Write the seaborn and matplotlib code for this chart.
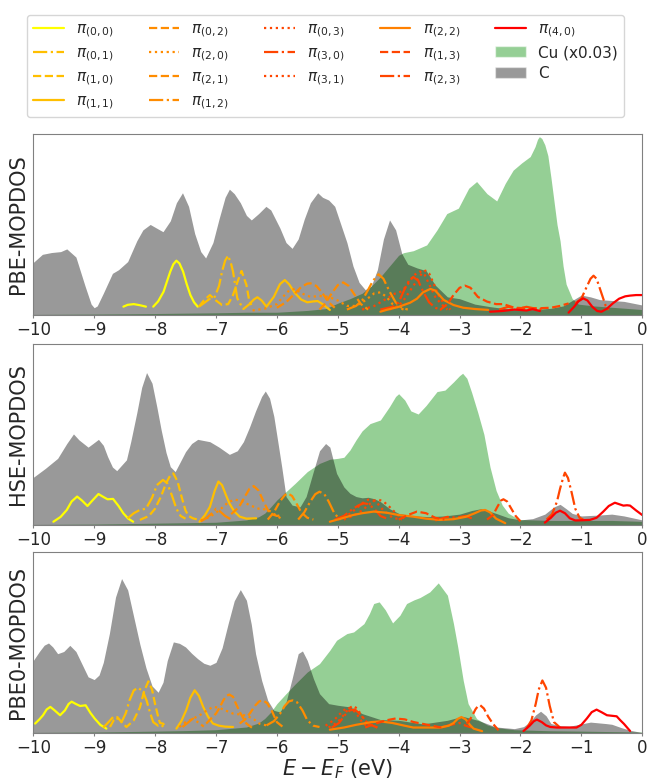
import matplotlib
matplotlib.use('Agg')
import matplotlib.pyplot as plt
import seaborn as sns
from matplotlib.lines import Line2D
from matplotlib.patches import Patch

# y in % of panel height, E in eV

# ---------------- PBE ----------------
pbe_c_e = [-10, -9.85, -9.7, -9.55, -9.45, -9.3, -9.15, -9.05, -9.0, -8.95, -8.85, -8.7, -8.6, -8.45,
           -8.3, -8.2, -8.08, -7.95, -7.87, -7.75, -7.65, -7.55, -7.45, -7.35, -7.25, -7.17, -7.05, -6.95,
           -6.85, -6.78, -6.7, -6.6, -6.5, -6.42, -6.3, -6.18, -6.1, -5.95, -5.85, -5.75, -5.65, -5.55,
           -5.45, -5.33, -5.25, -5.15, -5.05, -4.95, -4.85, -4.75, -4.65, -4.55, -4.45, -4.35, -4.25,
           -4.15, -4.05, -3.95, -3.85, -3.7, -3.55, -3.4, -3.2, -3.0, -2.75, -2.5, -2.25, -2.0, -1.75,
           -1.5, -1.3, -1.15, -1.0, -0.85, -0.7, -0.5, -0.3, 0.0]
pbe_c = [29, 33.5, 34.5, 35, 36.5, 32, 16, 6, 4, 5, 12, 23, 25, 29.5,
         41, 47, 50, 47.5, 46, 52, 62, 67.5, 60, 45, 35, 31.5, 40, 53,
         65, 69.5, 67, 62, 55, 52.5, 56, 60, 58, 48, 40, 36.8, 42, 53,
         62, 67.5, 65, 63.5, 60, 50, 40, 27, 18, 14, 16, 25, 42,
         52.5, 47, 34, 28, 26, 24.5, 16.5, 10, 9, 6, 4.6, 3.5, 2.8, 3,
         3.7, 5, 8, 11, 10, 8.5, 8, 7.5, 5.5]
pbe_cu_e = [-10, -9, -8, -7, -6.5, -6, -5.5, -5.2, -5.0, -4.8, -4.6, -4.45, -4.3, -4.15, -4.0, -3.92,
            -3.76, -3.54, -3.37, -3.21, -3.02, -2.85, -2.72, -2.55, -2.39, -2.25, -2.12, -1.98, -1.84,
            -1.76, -1.72, -1.69, -1.65, -1.6, -1.55, -1.5, -1.45, -1.4, -1.35, -1.3, -1.25, -1.15, -1.05,
            -0.8, -0.4, 0]
pbe_cu = [0.3, 0.5, 0.8, 1.2, 1.5, 1.5, 2.5, 3.5, 6.5, 9, 12, 16, 21, 27, 33, 34.4,
          35.5, 38.7, 47, 56, 59, 70, 73.7, 67, 63, 72.7, 80, 84, 87.5,
          93, 97, 98.5, 97.5, 94, 88, 76, 63, 50, 41, 27, 17, 9, 6,
          5, 4, 3]
pbe_pi = {
    '00': [([-8.52, -8.45, -8.35, -8.25, -8.15], [4.6, 5.6, 6.0, 5.4, 4.6]),
           ([-8.03, -7.95, -7.86, -7.8, -7.75, -7.7, -7.65, -7.6, -7.54, -7.48, -7.42, -7.36, -7.3],
            [4.6, 7.5, 12.9, 19, 24, 28, 30, 28.5, 24, 17, 11, 7, 4.6])],
    '01': [([-7.28, -7.2, -7.1, -7.02, -6.95, -6.9, -6.85, -6.8, -6.75, -6.72, -6.65, -6.6, -6.55],
            [4.6, 6.5, 9, 10, 16, 24, 30, 32.8, 28, 24, 9.2, 6, 4.6])],
    '10': [([-7.28, -7.2, -7.1, -7.0, -6.9, -6.8, -6.72, -6.65, -6.58, -6.5, -6.46, -6.42],
            [4.6, 8, 11, 8, 5.5, 6, 11, 18, 24.3, 16.6, 9, 5.5])],
    '11': [([-6.55, -6.45, -6.38, -6.32, -6.25, -6.17, -6.05, -5.95, -5.87, -5.8, -5.7, -5.6, -5.5,
             -5.4, -5.33, -5.25, -5.13],
            [3.3, 6, 8.5, 9.8, 8, 4.6, 10, 17, 19.3, 17, 12, 8.5, 7, 7.5, 7.7, 6, 2.8])],
    '02': [([-6.0, -5.85, -5.7, -5.6, -5.5, -5.45, -5.35, -5.25, -5.15, -5.05],
            [4, 7, 12, 15.5, 17.3, 17.5, 16, 12, 7, 4])],
    '20': [([-6.4, -6.2, -6.0, -5.9, -5.8, -5.7, -5.6, -5.45, -5.3, -5.15, -5.0, -4.85, -4.7, -4.55,
             -4.4, -4.3, -4.2, -4.1, -4.0, -3.9],
            [2.5, 3.5, 6, 10, 13.5, 14.5, 12, 10, 10.5, 10, 8, 5, 5, 8, 12, 12.5, 10, 6, 4, 2.8])],
    '21': [([-5.3, -5.2, -5.1, -5.0, -4.91, -4.82, -4.72, -4.62, -4.5],
            [3, 6.5, 12, 16.5, 18, 16, 11, 6, 3])],
    '12': [([-4.85, -4.7, -4.6, -4.5, -4.42, -4.33, -4.25, -4.15, -4.05, -3.95, -3.85],
            [3, 5, 8, 14, 19, 22.5, 20, 13, 7, 4, 3])],
    '03': [([-4.6, -4.4, -4.2, -4.05, -3.95, -3.85, -3.75, -3.65, -3.57, -3.5, -3.4, -3.3, -3.2],
            [3, 5, 9, 12, 13, 17, 22, 24, 22, 17, 10, 6, 3])],
    '30': [([-4.3, -4.1, -4.0, -3.92, -3.83, -3.76, -3.68, -3.6, -3.5, -3.4, -3.3],
            [3, 4.5, 7, 13, 19, 21, 19, 13, 7, 4, 2.8]),
           ([-2.35, -2.2, -2.05, -1.9, -1.75, -1.6], [3, 4.5, 3.5, 4.5, 3.5, 3])],
    '31': [([-4.15, -4.0, -3.9, -3.8, -3.7, -3.62, -3.56, -3.5, -3.42, -3.35, -3.25, -3.15],
            [3, 5, 9, 14, 19, 23, 24.5, 23, 17, 11, 6, 3])],
    '22': [([-4.3, -4.2, -4.0, -3.81, -3.7, -3.6, -3.48, -3.4, -3.26, -3.1, -2.94, -2.75, -2.53],
            [1.8, 2.8, 4.5, 6.8, 9, 12.5, 14.4, 13.5, 8.3, 5.5, 4, 3.3, 2.8])],
    '13': [([-3.32, -3.2, -3.1, -3.0, -2.91, -2.82, -2.7, -2.55, -2.4, -2.28, -2.1, -1.9, -1.7, -1.5,
             -1.35, -1.21],
            [2.8, 6, 11, 15, 16.2, 15, 10, 7.4, 6, 6, 4, 3.7, 3.7, 4, 5, 6.4])],
    '23': [([-1.1, -1.0, -0.92, -0.85, -0.8, -0.75, -0.68, -0.6, -0.55],
            [6.4, 9, 15, 20, 21.7, 20, 13, 5, 2.8])],
    '40': [([-2.5, -2.3, -2.1, -1.9, -1.8, -1.68], [1.8, 2.2, 3.0, 2.5, 3.2, 2.2]),
           ([-1.21, -1.12, -1.05, -0.97, -0.9, -0.82, -0.74, -0.67, -0.58, -0.48, -0.38, -0.28, -0.2,
             -0.1, 0.0],
            [1.3, 4.5, 7.5, 9.2, 8, 4.5, 2.2, 1.8, 3.5, 6.5, 9, 10.3, 10.7, 11, 11])],
}

# ---------------- HSE ----------------
hse_c_e = [-10, -9.8, -9.6, -9.45, -9.34, -9.25, -9.1, -9.02, -8.93, -8.85, -8.78, -8.7, -8.63, -8.55,
           -8.47, -8.4, -8.3, -8.22, -8.14, -8.05, -7.97, -7.9, -7.82, -7.75, -7.67, -7.6, -7.5, -7.4,
           -7.3, -7.1, -6.95, -6.78, -6.65, -6.55, -6.45, -6.35, -6.25, -6.19, -6.12, -6.05, -5.98,
           -5.92, -5.85, -5.75, -5.62, -5.52, -5.41, -5.3, -5.2, -5.13, -5.02, -4.9, -4.8, -4.7, -4.6,
           -4.5, -4.4, -4.3, -4.15, -4.0, -3.75, -3.5, -3.25, -3.0, -2.8, -2.65, -2.5, -2.4, -2.2, -2.0,
           -1.8, -1.6, -1.45, -1.35, -1.25, -1.15, -1.0, -0.7, -0.5, -0.3, 0]
hse_c = [26.3, 31.3, 36.8, 45, 50.3, 47, 43, 45, 47.3, 44, 37.8, 32, 30, 33,
         36, 46, 62, 76, 84.2, 78.3, 65, 52.5, 40, 32.2, 29.5, 34, 40.5, 45,
         47.3, 46, 43, 39, 41, 46, 54, 63, 71, 74, 70, 60, 45,
         32, 15.7, 11, 10, 15.7, 28.5, 41, 45, 43, 28.5, 21, 17.5, 15.7, 15,
         15.3, 14.5, 12.9, 9, 6.4, 5, 4.6, 5, 6, 8, 9, 7.5, 6.4, 4, 2.8,
         3.5, 6, 10, 11.4, 9, 6.4, 5, 5.5, 6, 5, 2.8]
hse_cu_e = [-10, -9, -8, -7, -6.5, -6.3, -6.2, -6.1, -6.0, -5.85, -5.7, -5.5, -5.3, -5.13, -5.0,
            -4.9, -4.8, -4.7, -4.6, -4.47, -4.3, -4.15, -4.05, -4.0, -3.9, -3.8, -3.68, -3.55, -3.37,
            -3.24, -3.1, -3.0, -2.95, -2.88, -2.8, -2.7, -2.6, -2.5, -2.4, -2.3, -2.2, -2.1, -2.0,
            -1.5, -1.0, -0.5, 0]
hse_cu = [0.3, 0.5, 1, 1.5, 2.8, 4.5, 6.5, 10, 13.8, 18.4, 23, 29.5, 34, 36.3, 36.8,
          37.4, 41.4, 47, 52, 56, 58, 65.4, 71, 72.5, 69, 63, 61.3, 66, 73.7,
          74.5, 79, 82.5, 83.8, 81, 73, 62, 50, 32, 19, 11, 6.5, 4.5, 3,
          2.5, 2.5, 2.5, 2]
hse_pi = {
    '00': [([-9.67, -9.55, -9.45, -9.37, -9.28, -9.2, -9.11, -9.03, -8.93, -8.85, -8.78, -8.69, -8.6,
             -8.52, -8.44, -8.36],
            [1.8, 4.5, 8.3, 13, 15.7, 13.5, 10.5, 13.5, 17.1, 15.5, 14.2, 14.4, 10.5, 6.4, 3.5, 1.8])],
    '01': [([-8.45, -8.35, -8.25, -8.15, -8.05, -7.97, -7.87, -7.8, -7.72, -7.65, -7.58, -7.5],
            [3.7, 6.5, 8.3, 9, 15, 22, 24.9, 23, 16, 9, 5, 3.5])],
    '10': [([-8.25, -8.1, -8.0, -7.9, -7.82, -7.75, -7.7, -7.63, -7.56, -7.5, -7.45, -7.38, -7.3],
            [2.8, 5, 9, 16, 23, 27.5, 28.5, 24, 15, 8, 5, 3.7, 3])],
    '11': [([-7.27, -7.18, -7.1, -7.02, -6.96, -6.9, -6.83, -6.78, -6.7, -6.61, -6.5, -6.34],
            [1.8, 5.5, 10, 19, 24, 22, 16, 12, 7.5, 4.6, 3.5, 3.7])],
    '02': [([-6.75, -6.62, -6.52, -6.45, -6.38, -6.3, -6.22, -6.12, -6.0, -5.9],
            [6, 10, 16, 20, 21.5, 19, 13, 6.4, 5, 5.5])],
    '20': [([-7.25, -7.1, -6.95, -6.8, -6.7, -6.6, -6.45, -6.3, -6.15, -6.0, -5.9],
            [2.5, 4.5, 8, 12.5, 14, 13.5, 11, 9, 8.5, 5, 3])],
    '21': [([-6.15, -6.05, -5.95, -5.87, -5.82, -5.75, -5.68, -5.6, -5.5, -5.4],
            [3, 7, 13, 16.5, 17.5, 16, 12, 7, 4, 3])],
    '12': [([-7.25, -7.15, -7.05, -7.0, -6.95, -6.85, -6.75], [2, 4, 7, 9, 8, 5, 3]),
           ([-5.65, -5.55, -5.45, -5.37, -5.3, -5.22, -5.15, -5.05, -4.95],
            [3, 7, 13, 17, 18.4, 17, 13, 6, 3])],
    '03': [([-5.0, -4.85, -4.7, -4.6, -4.5, -4.42, -4.35, -4.25, -4.1, -3.95],
            [3, 5, 9, 12, 14, 13.5, 12, 8, 4, 3])],
    '30': [([-5.05, -4.9, -4.75, -4.65, -4.57, -4.5, -4.4, -4.3, -4.15], [3, 5, 9, 11, 12, 11.5, 9, 5, 3]),
           ([-3.4, -3.2, -3.05, -2.9, -2.75], [2.5, 4.5, 4, 5, 3])],
    '31': [([-4.9, -4.75, -4.6, -4.5, -4.4, -4.33, -4.25, -4.15, -4.0, -3.85],
            [3, 5, 8, 11, 13.5, 14, 13, 10, 5, 3])],
    '22': [([-5.13, -4.95, -4.75, -4.6, -4.41, -4.2, -4.0, -3.76, -3.55, -3.32, -3.1, -2.9, -2.75,
             -2.65, -2.58, -2.5, -2.4, -2.25],
            [1.8, 3.5, 5.5, 6.5, 7.4, 6.8, 5.5, 4.6, 3.5, 2.8, 3.2, 4.5, 6.5, 8, 8.3, 7, 3.5, 1])],
    '13': [([-4.0, -3.85, -3.7, -3.55, -3.4, -3.25], [3, 5.5, 7.4, 6.5, 4, 3]),
           ([-2.55, -2.45, -2.38, -2.32, -2.28, -2.22, -2.15, -2.08, -2.0],
            [3, 5.5, 10, 13.5, 14.2, 13, 9, 5, 2])],
    '23': [([-1.57, -1.48, -1.4, -1.35, -1.3, -1.27, -1.22, -1.16, -1.1, -1.03, -0.97],
            [3, 6, 13, 20, 26, 28.9, 26, 18, 9, 4, 3])],
    '40': [([-1.6, -1.5, -1.42, -1.35, -1.27, -1.19, -1.1, -1.0, -0.86, -0.75, -0.64, -0.55, -0.45,
             -0.38, -0.31, -0.25, -0.2, -0.1, 0.0],
            [1.3, 4, 6.8, 7.9, 6.5, 3.7, 2.5, 2.6, 2.8, 4, 7.4, 10.5, 12.3, 11.5, 10.7, 10.9, 10.7, 8, 5.5])],
}

# ---------------- PBE0 ----------------
pbe0_c_e = [-10, -9.9, -9.82, -9.75, -9.68, -9.6, -9.5, -9.4, -9.3, -9.2, -9.1, -9.0, -8.92, -8.85,
            -8.75, -8.65, -8.55, -8.45, -8.35, -8.25, -8.15, -8.05, -7.95, -7.87, -7.8, -7.7, -7.6,
            -7.5, -7.4, -7.3, -7.2, -7.1, -7.0, -6.9, -6.8, -6.7, -6.6, -6.5, -6.42, -6.35, -6.25,
            -6.15, -6.05, -5.95, -5.85, -5.75, -5.65, -5.58, -5.5, -5.4, -5.3, -5.15, -5.0, -4.8, -4.6,
            -4.3, -4.0, -3.6, -3.2, -2.95, -2.7, -2.4, -2.1, -1.95, -1.85, -1.75, -1.67, -1.58, -1.5,
            -1.35, -1.2, -1.0, -0.85, -0.6, -0.5, -0.35, -0.2, 0]
pbe0_c = [40, 45, 48.5, 49.7, 47.5, 43.8, 45, 48.4, 45, 38, 31, 29.5, 32, 39,
          55, 75, 85.3, 79, 64, 49, 36, 26, 22.5, 28, 40, 50.3, 49.5,
          47.5, 44, 41, 38.5, 37.4, 39, 47, 60.4, 73, 79.2, 73.3, 60, 43.8, 29,
          18, 12.5, 11.6, 17, 30, 43.8, 45.3, 40, 30, 21.7, 16.2, 15.3, 14.4, 10.7,
          7.4, 7, 5, 7, 9.2, 7, 3.3, 2.4, 3.5, 6, 10, 12, 9.5, 5.2,
          4, 3.7, 5, 6, 5.2, 4.8, 3, 1.5, 0.2]
pbe0_cu_e = [-10, -9, -8, -7.5, -7.0, -6.5, -6.3, -6.2, -6.1, -6.0, -5.85, -5.7, -5.5, -5.3, -5.13,
             -5.02, -4.85, -4.74, -4.57, -4.48, -4.41, -4.32, -4.22, -4.1, -3.98, -3.87, -3.75, -3.65,
             -3.49, -3.35, -3.2, -3.1, -3.03, -2.94, -2.86, -2.72, -2.55, -2.4, -2.1, -1.5, -1.0, 0]
pbe0_cu = [0.3, 0.5, 1, 1.3, 1.8, 3.3, 5.5, 8, 11.5, 16.2, 21.7, 27, 33.7, 38.3, 45.7,
           51.2, 54.9, 55.8, 60.4, 66, 71.5, 72.4, 68, 60.8, 65, 71.5, 73.5, 74.8,
           77.9, 82.9, 76.1, 60.4, 47.5, 29, 16.2, 7.9, 4.5, 3, 1.8, 1.2, 1, 0.5]
pbe0_pi = {
    '00': [([-9.97, -9.9, -9.84, -9.78, -9.72, -9.65, -9.56, -9.48, -9.42, -9.37, -9.3, -9.23, -9.14,
             -9.06, -8.99, -8.9, -8.8],
            [5.2, 7.5, 9.8, 13, 14.4, 12.5, 9.8, 12.5, 16, 17.3, 16, 14.9, 15.3, 11, 7.9, 4.5, 2.4])],
    '01': [([-8.85, -8.75, -8.69, -8.62, -8.55, -8.48, -8.42, -8.35, -8.28, -8.2, -8.14, -8.08, -8.03,
             -7.95, -7.9, -7.85],
            [3, 6.5, 8.8, 8, 6, 11, 18, 23.5, 25, 23, 18, 11, 6, 4, 4.5, 3])],
    '10': [([-8.74, -8.68, -8.62, -8.55, -8.47, -8.35, -8.25, -8.18, -8.11, -8.05, -8.0, -7.95, -7.92,
             -7.87, -7.81],
            [3.3, 7, 8.8, 6, 3.3, 7, 14, 23, 28.5, 24, 16, 9, 5.5, 5.2, 3])],
    '11': [([-7.65, -7.57, -7.49, -7.42, -7.35, -7.28, -7.21, -7.13, -7.05, -6.95, -6.85, -6.72],
            [2.4, 6.5, 12.5, 19.5, 23.6, 20.5, 14.4, 9, 5.2, 4, 3.5, 3.3])],
    '02': [([-7.16, -7.08, -7.0, -6.94, -6.88, -6.83, -6.78, -6.72, -6.67, -6.6, -6.5, -6.39],
            [5.2, 8, 10.7, 14, 18, 20.5, 21.2, 20, 16, 11, 5.2, 2.4])],
    '20': [([-7.6, -7.5, -7.38, -7.28, -7.17, -7.05, -6.95, -6.85, -6.72, -6.6, -6.5, -6.39, -6.28,
             -6.17],
            [3.3, 6, 7.9, 9.5, 12, 14.4, 14, 12.5, 10.7, 10.2, 9.5, 7.9, 5, 4.2])],
    '21': [([-6.61, -6.52, -6.44, -6.36, -6.29, -6.23, -6.16, -6.08, -6.0, -5.9],
            [5.2, 7.5, 11, 15, 17.5, 18, 16.5, 12, 6, 3.3])],
    '12': [([-7.55, -7.45, -7.38, -7.3, -7.2], [3.3, 6, 7.9, 6, 3.5]),
           ([-6.17, -6.05, -5.95, -5.87, -5.8, -5.74, -5.67, -5.58, -5.5, -5.4, -5.3],
            [4.2, 6.5, 10.5, 15, 17.5, 18, 17, 12.5, 7, 4, 3.3])],
    '03': [([-5.15, -5.0, -4.9, -4.82, -4.75, -4.68, -4.6, -4.5, -4.35],
            [3, 6, 10, 13.5, 15, 13.5, 9, 5, 3])],
    '30': [([-5.1, -4.98, -4.88, -4.8, -4.72, -4.62, -4.5, -4.35], [3, 5.5, 10, 12.5, 13, 10, 5, 3]),
           ([-3.3, -3.15, -3.0, -2.9, -2.8], [3, 4.5, 5.5, 4, 3])],
    '31': [([-5.2, -5.05, -4.95, -4.85, -4.78, -4.7, -4.6, -4.5], [4, 7.5, 11, 14, 13.5, 11, 6, 3])],
    '22': [([-5.13, -4.9, -4.7, -4.58, -4.45, -4.3, -4.1, -3.9, -3.76, -3.55, -3.32, -3.18, -3.1,
             -3.03, -2.97, -2.9, -2.83, -2.77, -2.63],
            [1.8, 3, 4.5, 5.2, 6, 6.4, 5.5, 4, 3, 3, 3, 4, 5.5, 7.8, 8.8, 7.5, 4.5, 2.4, 1])],
    '13': [([-4.55, -4.4, -4.2, -4.05, -3.9, -3.75, -3.6, -3.45, -3.3], [3, 5, 7, 8, 7.5, 6, 5, 4, 3]),
           ([-2.88, -2.8, -2.74, -2.7, -2.66, -2.6, -2.53, -2.45, -2.36],
            [5, 9, 13, 14.8, 15.3, 13.5, 9, 5, 1.5])],
    '23': [([-1.9, -1.82, -1.75, -1.7, -1.64, -1.58, -1.52, -1.45, -1.35],
            [2.4, 7, 16, 24, 29, 25, 15, 6, 3])],
    '40': [([-1.95, -1.85, -1.78, -1.73, -1.65, -1.58, -1.51, -1.4, -1.25, -1.08, -1.0, -0.91, -0.83,
             -0.75, -0.67, -0.58, -0.5, -0.42, -0.36, -0.3, -0.2],
            [1.1, 4, 6.5, 7.4, 6, 4.2, 3.3, 3, 3, 3, 4.5, 8, 11.5, 12.9, 11.5, 9.8, 9.5, 9.2, 7, 5, 1.1])],
}

pi_keys = ['00', '01', '10', '11', '02', '20', '21', '12', '03', '30', '31', '22', '13', '23', '40']
pi_colors = ['#ffff00', '#ffbf00', '#ffbf00', '#ffbf00', '#ff8c00', '#ff8c00', '#ff8c00', '#ff8c00',
             '#ff4500', '#ff4500', '#ff4500', '#ff8000', '#ff4500', '#ff4500', '#ff0000']
pi_styles = ['-', '-.', '--', '-', '--', ':', '--', '-.', ':', '-.', ':', '-', '--', '-.', '-']

panels = [('PBE-MOPDOS', pbe_c_e, pbe_c, pbe_cu_e, pbe_cu, pbe_pi),
          ('HSE-MOPDOS', hse_c_e, hse_c, hse_cu_e, hse_cu, hse_pi),
          ('PBE0-MOPDOS', pbe0_c_e, pbe0_c, pbe0_cu_e, pbe0_cu, pbe0_pi)]
bottoms = [0.5967, 0.3278, 0.0615]

sns.set_style('ticks')
plt.rcParams['font.family'] = ['DejaVu Sans']
plt.rcParams['mathtext.fontset'] = 'dejavusans'

fig = plt.figure(figsize=(6.59, 7.81), dpi=100)

for (name, c_e, c_y, cu_e, cu_y, curves), b in zip(panels, bottoms):
    ax = fig.add_axes([0.0505, b, 0.9241, 0.2318])
    ax.fill_between(cu_e, cu_y, color='tab:green', alpha=0.5, lw=0)
    ax.fill_between(c_e, c_y, color='k', alpha=0.4, lw=0)
    for key, col, ls in zip(pi_keys, pi_colors, pi_styles):
        for e, y in curves.get(key, []):
            sns.lineplot(x=e, y=y, ax=ax, color=col, linestyle=ls, lw=1.6,
                         estimator=None, sort=False, legend=False)
    ax.set_xlim(-10, 0)
    ax.set_ylim(0, 100)
    ax.set_yticks([])
    ax.set_xticks(range(-10, 1))
    ax.tick_params(axis='x', labelsize=12, color='gray', length=2.5, width=0.8, pad=2)
    for sp in ax.spines.values():
        sp.set_color('gray')
    ax.set_ylabel(name, fontsize=15)
    ax.set_xlabel('')

ax.set_xlabel(r'$E - E_F$ (eV)', fontsize=15, labelpad=0)

handles = [Line2D([], [], color=col, ls=ls, lw=1.6) for col, ls in zip(pi_colors, pi_styles)]
handles += [Patch(facecolor='tab:green', alpha=0.5), Patch(facecolor='k', alpha=0.4)]
labels = [r'$\pi_{(%s,%s)}$' % (k[0], k[1]) for k in pi_keys] + ['Cu (x0.03)', 'C']
fig.legend(handles, labels, loc='upper left', bbox_to_anchor=(27 / 659, 1 - 15 / 781),
           ncol=5, fontsize=11, borderaxespad=0, labelspacing=0.38, columnspacing=2.3)

fig.savefig('out.png', dpi=100)
